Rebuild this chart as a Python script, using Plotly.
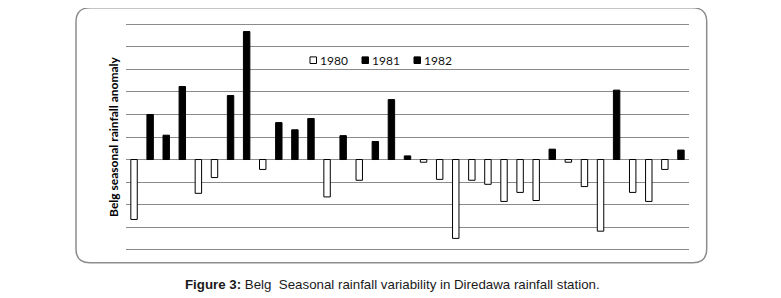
import plotly.graph_objects as go

# ---- data ----
years = [str(y) for y in range(1980, 2015)]
anomaly = [-133, 100, 54, 162, -75, -40, 142, 284, -22, 82,
           66, 91, -83, 53, -46, 40, 133, 8, -6, -44,
           -175, -46, -55, -93, -73, -91, 23, -6, -60, -159,
           154, -73, -93, -22, 21]
legend_years = ["1980", "1981", "1982"]
y_title = "Belg seasonal rainfall anomaly"
caption = "<b>Figure 3:</b> Belg&nbsp; Seasonal rainfall variability in Diredawa rainfall station."
y_min, y_max, y_step = -200, 300, 50

# ---- layout geometry (screen pixels; page body has an 8px margin) ----
OFF = 8
PAD = 3  # data units of padding so the edge gridlines are drawn
px_per_unit = (249.5 - 24.5) / (y_max - y_min)
W, H = 781 - OFF, 298 - OFF
L_s, R_s = 126, 689
T_s = 24.5 - PAD * px_per_unit
B_s = 249.5 + PAD * px_per_unit
ML = L_s - OFF
MT = T_s - OFF
MR = W - (R_s - OFF)
MB = H - (B_s - OFF)
PW = W - ML - MR
PH = H - MT - MB


def xp(px):
    return (px - OFF - ML) / PW


def yp(py):
    return (H - MB - (py - OFF)) / PH


def color_of(v):
    return "#000000" if v > 0 else "#ffffff"


fig = go.Figure()
fig.add_trace(go.Bar(
    x=years, y=anomaly,
    marker=dict(color=[color_of(v) for v in anomaly],
                line=dict(color="#000000", width=1)),
    showlegend=False,
))

fig.update_layout(
    width=W, height=H,
    margin=dict(l=ML, r=MR, t=MT, b=MB, autoexpand=False),
    paper_bgcolor="white", plot_bgcolor="white",
    bargap=0.6,
    showlegend=False,
    xaxis=dict(showticklabels=False, ticks="", showgrid=False,
               zeroline=False, showline=False, type="category"),
    yaxis=dict(range=[y_min - PAD, y_max + PAD],
               tickvals=list(range(y_min, y_max + 1, y_step)),
               showticklabels=False, ticks="",
               showgrid=True, gridcolor="#8a8a8a", gridwidth=1,
               zeroline=True, zerolinecolor="#8a8a8a", zerolinewidth=1,
               showline=False,
               title=dict(text="<b>" + y_title + "</b>", standoff=3,
                          font=dict(family="Lato", size=12, color="#000000"))),
    font=dict(family="Lato"),
)

# rounded border
x0, x1, y0, y1, r = 76, 706.7, 8, 262.7, 14
def P(x, y):
    return f"{xp(x):.5f},{yp(y):.5f}"
path = (f"M {P(x0 + r, y0)} L {P(x1 - r, y0)} Q {P(x1, y0)} {P(x1, y0 + r)} "
        f"L {P(x1, y1 - r)} Q {P(x1, y1)} {P(x1 - r, y1)} "
        f"L {P(x0 + r, y1)} Q {P(x0, y1)} {P(x0, y1 - r)} "
        f"L {P(x0, y0 + r)} Q {P(x0, y0)} {P(x0 + r, y0)} Z")
fig.add_shape(type="path", path=path, xref="paper", yref="paper",
              line=dict(color="#8c8c8c", width=1.5), fillcolor="rgba(0,0,0,0)",
              layer="below")

# legend (first three entries)
leg_x = [310, 362, 414]
leg_y = 60.3
for lx, yr in zip(leg_x, legend_years):
    v = anomaly[years.index(yr)]
    fig.add_shape(type="rect", xref="paper", yref="paper",
                  x0=xp(lx), x1=xp(lx + 6.5), y0=yp(leg_y - 3.3), y1=yp(leg_y + 3.3),
                  fillcolor=color_of(v), line=dict(color="#000000", width=1))
    fig.add_annotation(text=yr, xref="paper", yref="paper",
                       x=xp(lx + 8), y=yp(leg_y), xanchor="left", yanchor="middle",
                       showarrow=False, font=dict(family="Lato", size=12, color="#111111"))

# caption
fig.add_annotation(text=caption, xref="paper", yref="paper",
                   x=xp(392.5), y=yp(284.5), xanchor="center", yanchor="middle",
                   showarrow=False,
                   font=dict(family="Liberation Sans", size=13.3, color="#1a1a1a"))

fig.write_html("out.html")
